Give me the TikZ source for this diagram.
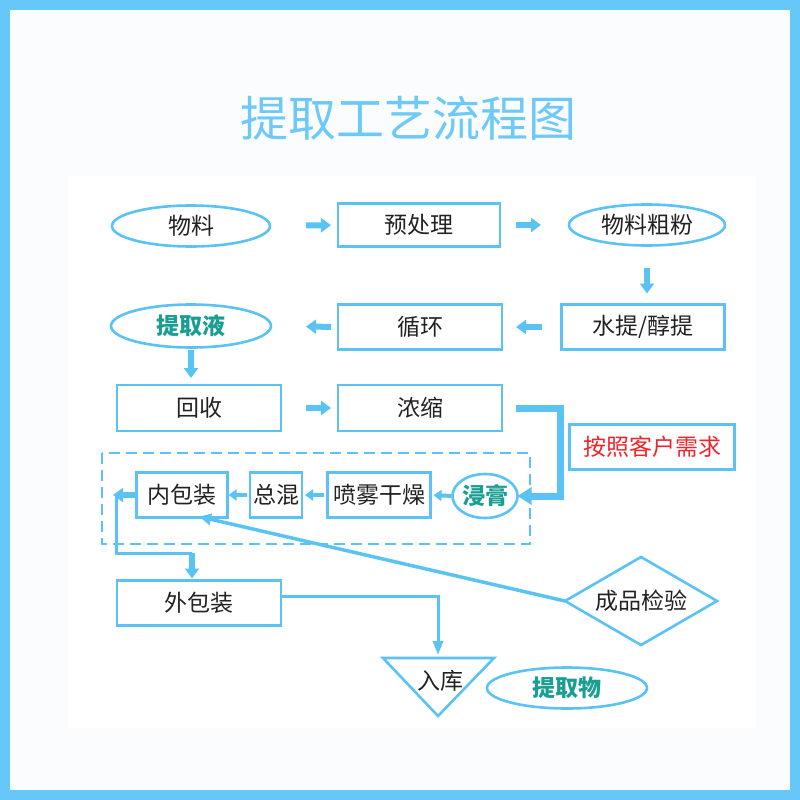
\documentclass[tikz,border=0pt]{standalone}
\usepackage{fontspec}
\setmainfont{Noto Sans CJK SC}
\usetikzlibrary{shapes.geometric,arrows.meta}

\definecolor{frameblue}{HTML}{66C8F9}
\definecolor{lineblue}{HTML}{5BC3F3}
\definecolor{titleblue}{HTML}{6DC9F7}
\definecolor{pagebg}{HTML}{FAFCFE}
\definecolor{tealtext}{HTML}{1A9E94}
\definecolor{redtext}{HTML}{F0242B}
\definecolor{darktext}{HTML}{222222}

\tikzset{
  base/.style={draw=lineblue, line width=2.6pt, inner sep=0pt, outer sep=0pt,
    text=darktext, font=\fontsize{23}{23}\selectfont},
  box/.style={base, rectangle, minimum width=#1, minimum height=45pt},
  oval/.style={base, ellipse, minimum width=#1, minimum height=41pt},
  keyword/.style={text=tealtext, font=\fontsize{23}{23}\selectfont\bfseries},
  flow/.style={draw=lineblue, line width=6pt, -{Triangle[length=10pt,width=14pt]}},
  smallflow/.style={draw=lineblue, line width=4pt, -{Triangle[length=8pt,width=11pt]}},
  bigflow/.style={draw=lineblue, line width=7pt, -{Triangle[length=14pt,width=17pt]}},
  link/.style={draw=lineblue, line width=3pt}
}

\begin{document}
\begin{tikzpicture}[x=1pt, y=-1pt]
  \fill[frameblue] (0,0) rectangle (800,800);
  \fill[pagebg] (10,10) rectangle (790,790);
  \fill[white] (68,176) rectangle (756,728);
  \useasboundingbox (0,0) rectangle (800,800);

  \node[text=titleblue, font=\fontsize{48}{48}\selectfont] (title) at (408,118) {提取工艺流程图};

  \node[oval=158pt] (wl) at (191,226) {物料};
  \node[box=162pt, minimum height=43pt] (ycl) at (419,225) {预处理};
  \node[oval=156pt] (cf) at (647,225) {物料粗粉};

  \node[box=163pt] (tq) at (643,327) {水提/醇提};
  \node[box=164pt] (xh) at (420,327) {循环};
  \node[oval=160pt, minimum height=43pt, keyword] (tqy) at (191,326) {提取液};

  \node[box=164pt, minimum height=46pt] (hs) at (199,408) {回收};
  \node[box=164pt, minimum height=46pt] (ns) at (420,408) {浓缩};
  \node[box=165pt, text=redtext] (khxq) at (652,447) {按照客户需求};

  \draw[lineblue, line width=2.6pt, dash pattern=on 11pt off 6pt] (102,453) rectangle (530,544);
  \node[oval=64pt, minimum height=44pt, keyword] (jg) at (485,496) {浸膏};
  \node[box=103pt] (pw) at (379,495) {喷雾干燥};
  \node[box=52pt] (zh) at (276,495) {总混};
  \node[box=91pt] (nbz) at (182,495) {内包装};

  \node[box=164pt] (wbz) at (199,603) {外包装};
  \node[base, diamond, aspect=1.73, minimum width=152pt, minimum height=88pt] (cpjy) at (641,601) {成品检验};
  \draw[lineblue, line width=2.6pt, line join=miter] (383,658) -- (494,658) -- (438,716) -- cycle;
  \coordinate (rktop) at (438,658);
  \node[text=darktext, font=\fontsize{23}{23}\selectfont] (rk) at (440,681) {入库};
  \node[oval=160pt, keyword] (tqw) at (567,688) {提取物};

  \foreach \a/\b/\s/\e in {wl.east/ycl.west/36pt/7pt, ycl.east/cf.west/16pt/28pt,
      tq.west/xh.east/20pt/14pt, xh.west/tqy.east/7pt/35pt, hs.east/ns.west/25pt/7pt}
    \draw[flow, shorten <=\s, shorten >=\e] (\a) -- (\b);
  \draw[flow, shorten <=22pt, shorten >=11pt] (cf.south) -- (cf.south |- tq.north);
  \draw[flow, shorten <=2pt, shorten >=7pt] (tqy.south) -- (tqy.south |- hs.north);

  \coordinate (bend) at (560,408);
  \draw[bigflow, shorten <=14pt] (ns.east) -- (bend) |- (jg.east);

  \foreach \a/\b/\s/\e in {jg.west/pw.east/1pt/3pt, pw.west/zh.east/4pt/3pt,
      zh.west/nbz.east/3pt/1pt}
    \draw[smallflow, shorten <=\s, shorten >=\e] (\a) -- (\b);

  \coordinate (nbzl) at (113,495);
  \coordinate (drop) at (192,553);
  \draw[link] ([xshift=3pt]nbzl) |- (drop);
  \draw[flow] (nbz.west) -- (nbzl);
  \draw[flow, shorten >=2pt] (drop) -- (drop |- wbz.north);

  \draw[link, line width=3.5pt, -{Triangle[length=12pt,width=11pt]}, shorten >=-4pt]
    (cpjy.west) -- ([xshift=21pt]nbz.south);
  \draw[link, -{Triangle[length=14pt,width=10pt]}, shorten >=3pt]
    ([yshift=7pt]wbz.east) -| (rktop);
\end{tikzpicture}
\end{document}
